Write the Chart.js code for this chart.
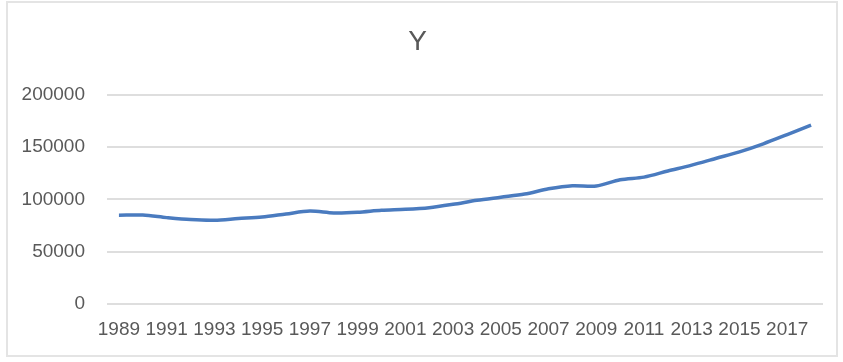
<!DOCTYPE html>
<html>
<head>
<meta charset="utf-8">
<script src="https://cdn.jsdelivr.net/npm/chart.js@4"></script>
<style>
  html, body { margin: 0; padding: 0; background: #fff; }
  #wrap { position: relative; width: 843px; height: 362px; }
  #frame { position: absolute; left: 6px; top: 1px; width: 832px; height: 356px; border: 2px solid #e4e4e4; box-sizing: border-box; }
  canvas { position: absolute; left: 0; top: 0; }
</style>
</head>
<body>
<div id="wrap">
  <div id="frame"></div>
  <canvas id="myChart" width="843" height="362"></canvas>
</div>
<script>
const years = ['1989', '1990', '1991', '1992', '1993', '1994', '1995', '1996', '1997', '1998',
  '1999', '2000', '2001', '2002', '2003', '2004', '2005', '2006', '2007', '2008',
  '2009', '2010', '2011', '2012', '2013', '2014', '2015', '2016', '2017', '2018'];
const yValues = [84800, 84900, 82500, 80600, 80000, 81600, 83100, 86000, 88800, 87000,
  87600, 89500, 90400, 92000, 95200, 99000, 102000, 105000, 110000, 113000,
  112600, 118700, 121200, 127000, 132600, 139000, 145300, 153000, 161800, 170800];
const yTicks = [0, 50000, 100000, 150000, 200000];

const ctx = document.getElementById('myChart').getContext('2d');

const myChart = new Chart(ctx, {
  type: 'line',
  data: {
    labels: years,
    datasets: [{
      label: 'Y',
      data: yValues,
      borderColor: '#4a7bbf',
      borderWidth: 3.5,
      pointRadius: 0,
      tension: 0.3,
      fill: false
    }]
  },
  options: {
    responsive: false,
    animation: false,
    layout: { padding: { top: 18, left: 12, right: 20, bottom: 20 } },
    plugins: {
      legend: { display: false },
      tooltip: { enabled: false },
      title: {
        display: true,
        text: 'Y',
        color: '#595959',
        font: { family: 'Liberation Sans', size: 28, weight: 'normal' },
        padding: { top: 7, bottom: 36 }
      }
    },
    scales: {
      x: {
        offset: true,
        grid: { display: false, drawTicks: false },
        border: { display: false },
        afterFit: s => { s.height = 38; },
        ticks: {
          autoSkip: false,
          maxRotation: 0,
          padding: 14,
          color: '#595959',
          font: { family: 'Liberation Sans', size: 19 },
          callback: function (v, i) { return i % 2 === 0 ? years[i] : null; }
        }
      },
      y: {
        min: 0,
        max: 200000,
        afterFit: s => { s.width = 95; },
        afterBuildTicks: s => { s.ticks = yTicks.map(v => ({ value: v })); },
        grid: { color: '#dedede', lineWidth: 2, drawTicks: false },
        border: { display: false },
        ticks: {
          padding: 22,
          color: '#595959',
          font: { family: 'Liberation Sans', size: 19 },
          callback: v => String(v)
        }
      }
    }
  }
});
</script>
</body>
</html>
